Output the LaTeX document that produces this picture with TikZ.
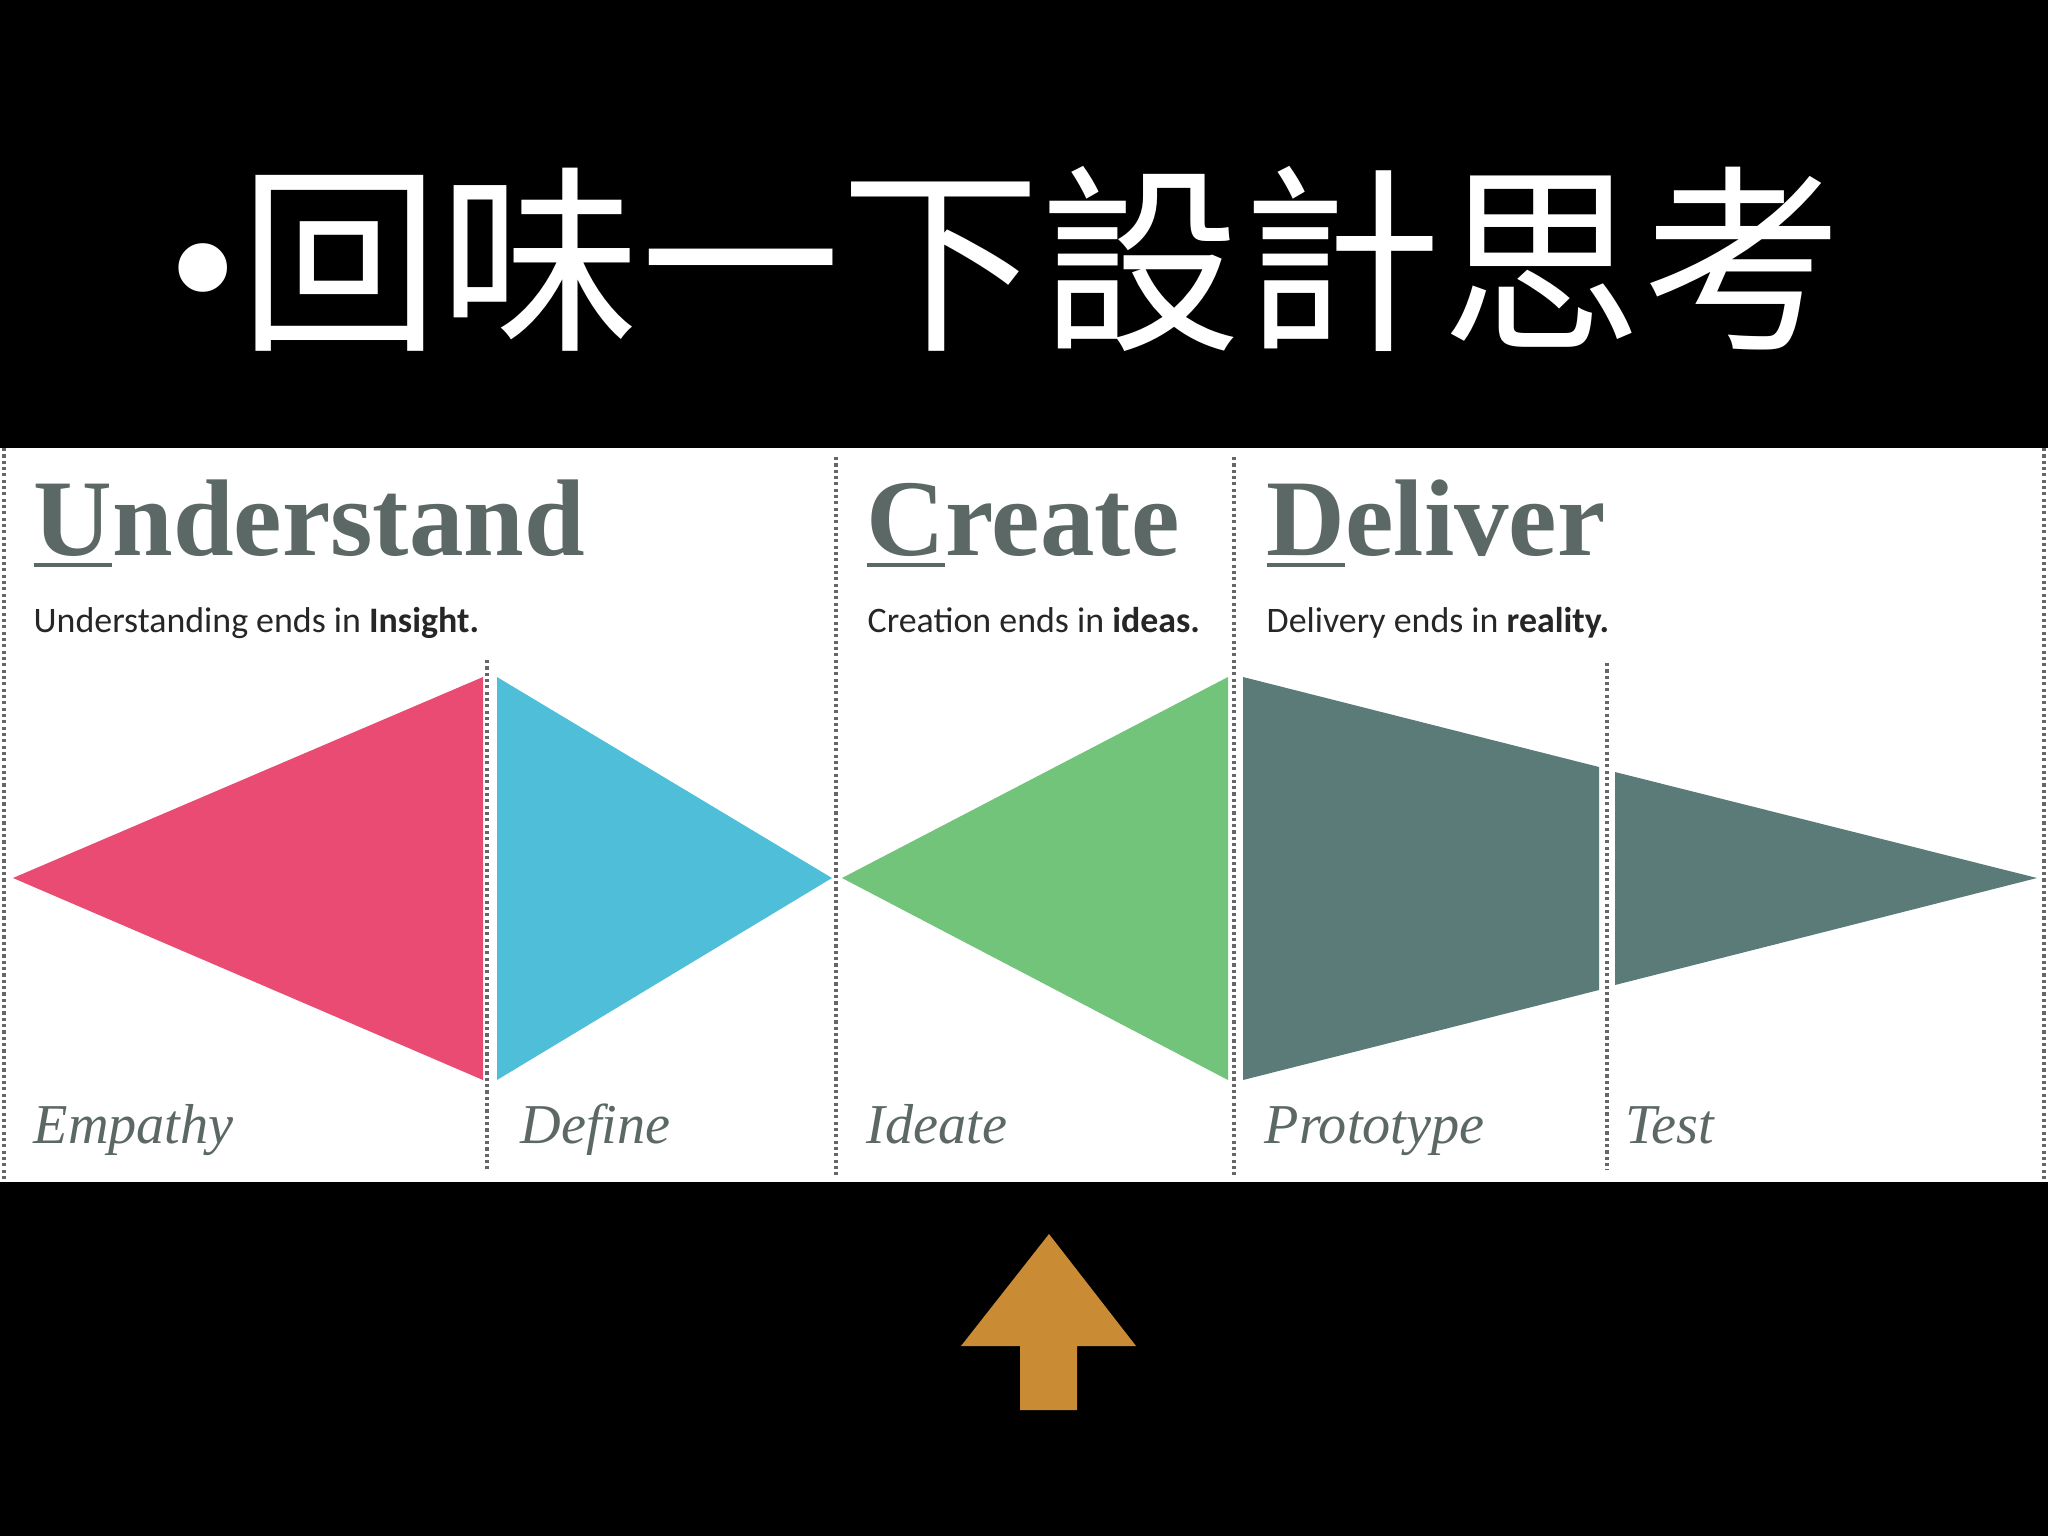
\documentclass[tikz,border=0pt]{standalone}
\usepackage{fontspec}
\setmainfont{Liberation Serif}
\setsansfont{Carlito}
\newfontfamily\cjk{Noto Sans CJK TC}
\definecolor{slate}{RGB}{91,104,102}
\definecolor{empink}{RGB}{233,75,114}
\definecolor{decyan}{RGB}{79,191,217}
\definecolor{idgreen}{RGB}{114,196,122}
\definecolor{prteal}{RGB}{90,123,120}
\definecolor{arrowgold}{RGB}{201,139,52}
\newcommand\firstul[1]{\setbox0\hbox{#1}\rlap{\rule[-3.4pt]{\wd0}{1.1pt}}#1}
\tikzset{
  phase/.style={anchor=base west, inner sep=0pt, text=slate, font=\fontsize{31}{31}\selectfont\bfseries},
  motto/.style={anchor=base west, inner sep=0pt, text=black!85, font=\sffamily\fontsize{10.2}{12}\selectfont},
  mode/.style={anchor=base west, inner sep=0pt, text=slate, font=\fontsize{16}{16}\selectfont\itshape},
  sep/.style={black!60, line width=0.9pt, dash pattern=on 0.9pt off 0.9pt},
}
\begin{document}
\begin{tikzpicture}[x=0.01cm,y=-0.01cm]
    \fill[black] (0,0) rectangle (2048,1536);
    \fill[white] (0,448) rectangle (2048,1182);
    \node[anchor=base west, inner sep=0pt, text=white, font=\cjk\fontsize{57}{57}\selectfont] (title) at (167,335) {{\rmfamily\fontsize{58}{58}\selectfont •}回味一下設計思考};
    % dotted dividers
    \foreach \x/\top/\bot in {4/448/1182, 487/660/1169, 836/457/1175, 1234/457/1175, 1607/663/1170, 2044/448/1182} {
        \draw[sep] (\x,\top) -- (\x,\bot);
    }
    % the five phases
    \fill[empink] (13,878) -- (483,677) -- (483,1080) -- cycle;
    \fill[decyan] (497,677) -- (832,878) -- (497,1080) -- cycle;
    \fill[idgreen] (842,878) -- (1228,677) -- (1228,1080) -- cycle;
    \fill[prteal] (1243,677) -- (1599,767) -- (1599,990) -- (1243,1080) -- cycle;
    \fill[prteal] (1615,772) -- (2037,878) -- (1615,985) -- cycle;
    % headings
    \node[phase] (understand) at (33,555) {\firstul{U}nderstand};
    \node[phase] (create) at (866,555) {\firstul{C}reate};
    \node[phase] (deliver) at (1266,555) {\firstul{D}eliver};
    \node[motto] (insight) at (33,632) {Understanding ends in \textbf{Insight.}};
    \node[motto] (ideas) at (867,632) {Creation ends in \textbf{ideas.}};
    \node[motto] (reality) at (1266,632) {Delivery ends in \textbf{reality.}};
    \foreach \name/\x/\txt in {empathy/33/Empathy, define/520/Define, ideate/866/Ideate, prototype/1264/Prototype, test/1625/Test} {
        \node[mode] (\name) at (\x,1143) {\txt};
    }
    % arrow
    \fill[arrowgold] (1049,1234) -- (1136,1346) -- (1077,1346) -- (1077,1410) -- (1020,1410) -- (1020,1346) -- (961,1346) -- cycle;
\end{tikzpicture}
\end{document}
